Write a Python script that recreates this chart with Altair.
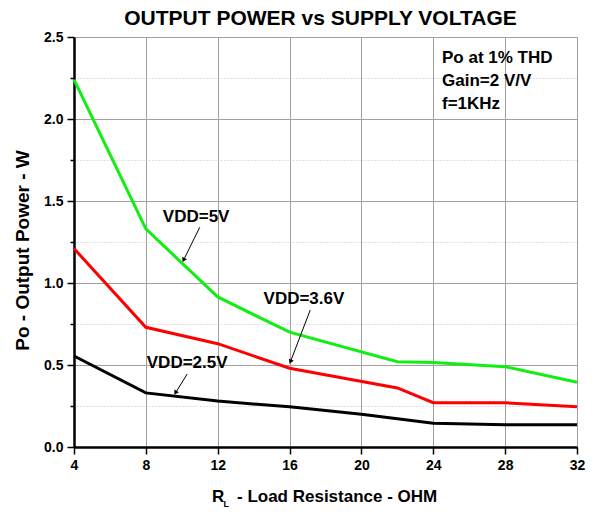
import altair as alt
import pandas as pd

# ---- data ----
series_names = ["VDD=5V", "VDD=3.6V", "VDD=2.5V"]
series_colors = ["#11ee11", "#ff0000", "#000000"]

x_5v = [4, 8, 12, 16, 22, 24, 28, 32]
y_5v = [2.24, 1.33, 0.915, 0.70, 0.52, 0.515, 0.49, 0.395]

x_36v = [4, 8, 12, 16, 22, 24, 28, 32]
y_36v = [1.21, 0.73, 0.63, 0.48, 0.36, 0.27, 0.27, 0.245]

x_25v = [4, 8, 12, 16, 20, 24, 28, 32]
y_25v = [0.555, 0.33, 0.28, 0.245, 0.20, 0.145, 0.135, 0.135]

# curve labels and arrows (data coordinates)
label_text = ["VDD=5V", "VDD=3.6V", "VDD=2.5V"]
label_x = [10.8, 16.8, 10.3]
label_y = [1.40, 0.90, 0.51]
arrow_x1 = [11.0, 17.15, 10.3]
arrow_y1 = [1.34, 0.835, 0.445]
arrow_x2 = [10.1, 16.05, 9.65]
arrow_y2 = [1.14, 0.52, 0.33]
arrow_angle = [206, 201, 210]

note_lines = ["Po at 1% THD", "Gain=2 V/V", "f=1KHz"]

title_text = "OUTPUT POWER vs SUPPLY VOLTAGE"
y_title = "Po - Output Power - W"
x_title_main = "R"
x_title_sub = "L"
x_title_rest = "- Load Resistance - OHM"

x_ticks = list(range(4, 33, 2))
y_ticks = [i * 0.25 for i in range(11)]

FONT = "Liberation Sans"

rows = []
for name, xs, ys in zip(series_names, [x_5v, x_36v, x_25v], [y_5v, y_36v, y_25v]):
    for xv, yv in zip(xs, ys):
        rows.append({"series": name, "R": xv, "P": yv})
df = pd.DataFrame(rows)

ann = pd.DataFrame({
    "label": label_text, "lx": label_x, "ly": label_y,
    "x1": arrow_x1, "y1": arrow_y1, "x2": arrow_x2, "y2": arrow_y2,
    "angle": arrow_angle,
})

xscale = alt.Scale(domain=[4, 32], nice=False, zero=False)
yscale = alt.Scale(domain=[0, 2.5], nice=False, zero=True)

is_major_x = "datum.value % 4 === 0"
is_major_y = "datum.value % 0.5 === 0"

x_axis = alt.Axis(
    values=x_ticks,
    labelExpr=f"{is_major_x} ? datum.label : ''",
    format="d",
    grid=True,
    gridColor={"condition": {"test": is_major_x, "value": "#a0a0a0"}, "value": "#c4c4c4"},
    gridDash={"condition": {"test": is_major_x, "value": []}, "value": [1, 2]},
    gridWidth=1,
    tickSize={"condition": {"test": is_major_x, "value": 7}, "value": 4},
    tickColor="black",
    tickWidth=1.5,
    domainColor="black",
    domainWidth=2.5,
    labelFont=FONT,
    labelFontSize=14,
    labelFontWeight="bold",
    labelColor="black",
    labelPadding=4,
    labelFlush=False,
    title=None,
)

y_axis = alt.Axis(
    values=y_ticks,
    labelExpr=f"{is_major_y} ? format(datum.value, '.1f') : ''",
    grid=True,
    gridColor={"condition": {"test": is_major_y, "value": "#a0a0a0"}, "value": "#c4c4c4"},
    gridDash={"condition": {"test": is_major_y, "value": []}, "value": [1, 2]},
    gridWidth=1,
    tickSize={"condition": {"test": is_major_y, "value": 7}, "value": 4},
    tickColor="black",
    tickWidth=1.5,
    domainColor="black",
    domainWidth=2.5,
    labelFont=FONT,
    labelFontSize=14,
    labelFontWeight="bold",
    labelColor="black",
    labelPadding=4,
    labelFlush=False,
    title=y_title,
    titleFont=FONT,
    titleFontSize=19,
    titleFontWeight="bold",
    titleColor="black",
    titleX=-46,
    titleY=213,
    titleAngle=270,
    titleAlign="center",
    titleBaseline="alphabetic",
)

lines = alt.Chart(df).mark_line(strokeWidth=3).encode(
    x=alt.X("R:Q", scale=xscale, axis=x_axis),
    y=alt.Y("P:Q", scale=yscale, axis=y_axis),
    color=alt.Color("series:N", scale=alt.Scale(domain=series_names, range=series_colors), legend=None),
    detail="series:N",
)

labels = alt.Chart(ann).mark_text(
    font=FONT, fontSize=17, fontWeight="bold", color="black", align="center", baseline="middle"
).encode(x=alt.X("lx:Q", scale=xscale), y=alt.Y("ly:Q", scale=yscale), text="label:N")

arrows = alt.Chart(ann).mark_rule(color="black", strokeWidth=1).encode(
    x=alt.X("x1:Q", scale=xscale), y=alt.Y("y1:Q", scale=yscale),
    x2="x2:Q", y2="y2:Q",
)

heads = alt.Chart(ann).mark_point(
    shape="triangle-up", filled=True, color="black", size=28, opacity=1
).encode(
    x=alt.X("x2:Q", scale=xscale), y=alt.Y("y2:Q", scale=yscale),
    angle=alt.Angle("angle:Q", scale=None),
)


def fixed_text(txt, px, py, size, align="left"):
    return alt.Chart(pd.DataFrame({"t": [txt]})).mark_text(
        font=FONT, fontSize=size, fontWeight="bold", color="black", align=align, baseline="alphabetic"
    ).encode(x=alt.value(px), y=alt.value(py), text="t:N")


note_layers = [fixed_text(t, 368, 26 + 23 * i, 17) for i, t in enumerate(note_lines)]

xt_main = fixed_text(x_title_main, 138, 465, 17)
xt_sub = fixed_text(x_title_sub, 149.5, 469.5, 9)
xt_rest = fixed_text(x_title_rest, 163, 465, 17)

chart = alt.layer(lines, arrows, heads, labels, *note_layers, xt_main, xt_sub, xt_rest).properties(
    width=503,
    height=410,
    title=alt.Title(title_text, font=FONT, fontSize=21, fontWeight="bold", color="black",
                    anchor="middle", offset=1, dx=-5),
    autosize=alt.AutoSizeParams(type="none"),
    padding={"left": 66, "top": 29, "right": 12, "bottom": 60},
).configure_view(
    stroke="black", strokeWidth=1.5
).configure(background="white")

chart.save("out.html", embed_options={"renderer": "svg", "actions": False})
